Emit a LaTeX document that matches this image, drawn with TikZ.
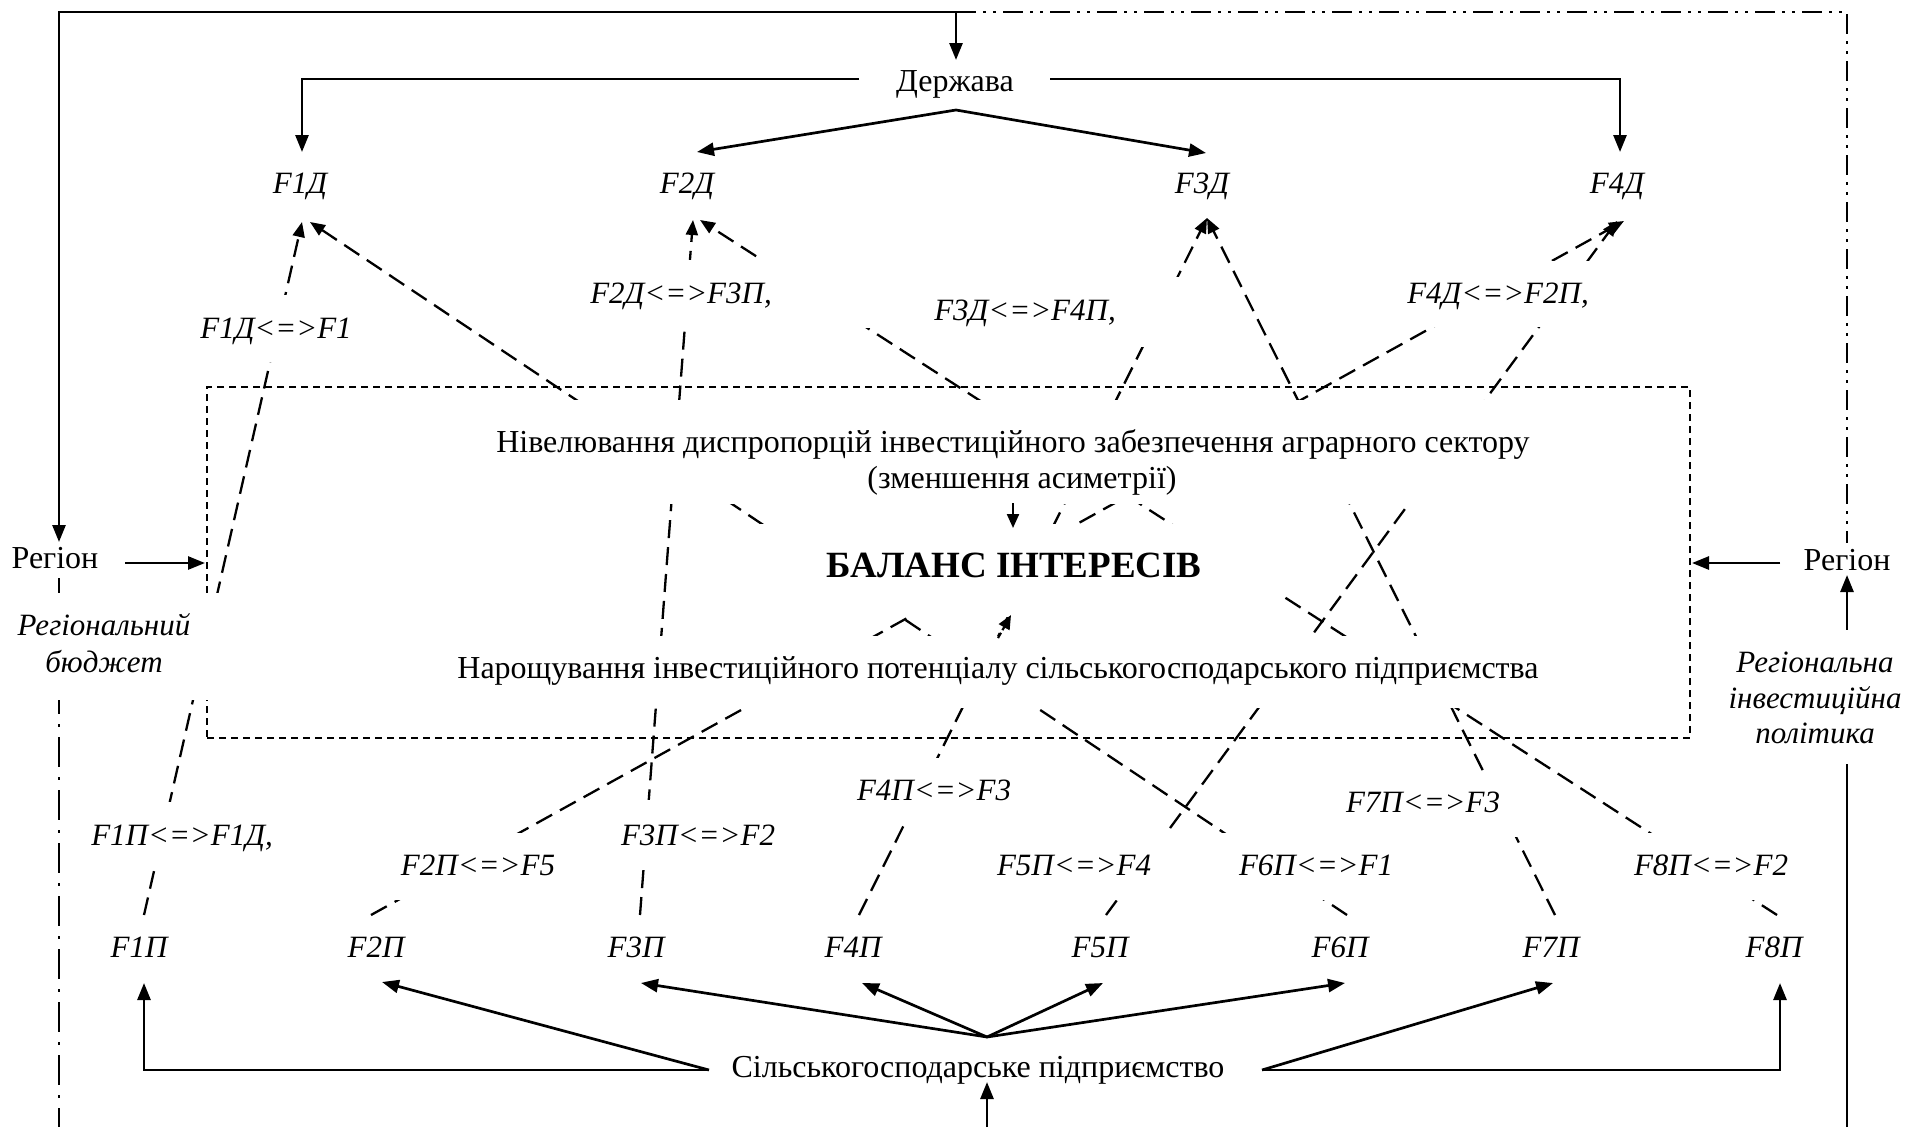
\documentclass[tikz,border=0pt]{standalone}
\usepackage{fontspec}
\setmainfont{Liberation Serif}
\usetikzlibrary{arrows.meta}
\newcommand\regf{\fontsize{32}{36}\selectfont}
\newcommand\labf{\fontsize{31}{36}\selectfont\itshape}
\newcommand\balf{\fontsize{37}{40}\selectfont\bfseries}
\begin{document}
\begin{tikzpicture}[x=1pt,y=-1pt,
  sarr/.style={line width=2.7pt,-{Triangle[length=17pt,width=13pt]}},
  dcon/.style={line width=2.3pt,dash pattern=on 18pt off 9pt,-{Triangle[length=15pt,width=12pt]}},
  ddot/.style={line width=2pt,dash pattern=on 20pt off 7pt on 3pt off 7pt on 3pt off 7pt},
  dd1/.style={line width=2pt,dash pattern=on 30pt off 10pt on 3pt off 10pt},
  frame/.style={draw,line width=1.7pt,dash pattern=on 7pt off 5pt,inner sep=0pt},
  mask/.style={fill=white,draw=none,inner sep=0pt,outer sep=0pt},
  rt/.style={font=\regf,inner sep=0pt,anchor=base},
  lt/.style={font=\labf,inner sep=0pt,anchor=base},
]
\useasboundingbox (0,0) rectangle (1910,1127);
\fill[white] (0,0) rectangle (1910,1127);

% frame
\node[frame,minimum width=1483pt,minimum height=351pt] (frm) at (948.5,562.5) {};

% coordinates of connector ends
\coordinate (topL) at (59,12);
\coordinate (topM) at (956,12);
\coordinate (topR) at (1847,12);
\coordinate (DzIn) at (956,60);
\coordinate (DzW) at (859,79);
\coordinate (DzE) at (1050,79);
\coordinate (DzS) at (956,110);
\coordinate (d1t) at (302,152);
\coordinate (d2t) at (697,152);
\coordinate (d3t) at (1206,153);
\coordinate (d4t) at (1620,152);
\coordinate (RegLin) at (59,542);
\coordinate (RegLs) at (59,578);
\coordinate (RegLe) at (125,563);
\coordinate (frmW) at (205,563);
\coordinate (RegRtop) at (1847,543);
\coordinate (RegRw) at (1780,563);
\coordinate (frmE) at (1692,563);
\coordinate (RegRin) at (1847,575);
\coordinate (brL) at (59,1127);
\coordinate (brR) at (1847,1127);
\coordinate (brM) at (987,1127);
\coordinate (SpIn) at (987,1082);
\coordinate (SpL) at (709,1070);
\coordinate (SpR) at (1262,1070);
\coordinate (SpJ) at (987,1037);
\coordinate (pt1) at (144,983);
\coordinate (pt2) at (382,982);
\coordinate (pt3) at (641,983);
\coordinate (pt4) at (862,983);
\coordinate (pt5) at (1103,983);
\coordinate (pt6) at (1345,983);
\coordinate (pt7) at (1553,983);
\coordinate (pt8) at (1780,983);
% dashed connector ends
\coordinate (t1a) at (302,222); \coordinate (t1b) at (310,222);
\coordinate (t2a) at (693,220); \coordinate (t2b) at (700,220);
\coordinate (t3) at (1207,218);
\coordinate (t4a) at (1624,221); \coordinate (t4b) at (1617,221);
\coordinate (b1) at (144,915);
\coordinate (b2) at (371,915);
\coordinate (b3) at (640,915);
\coordinate (b4) at (859,915);
\coordinate (b5) at (1106,915);
\coordinate (b6) at (1347,915);
\coordinate (b7) at (1555,915);
\coordinate (b8) at (1777,915);

% solid arrows
\draw[sarr] (topM) -- (topL) -- (RegLin);
\draw[sarr] (topM) -- (DzIn);
\draw[ddot] (topM) -- (topR) -- (RegRtop);
\draw[sarr] (DzW) -| (d1t);
\draw[sarr] (DzE) -| (d4t);
\draw[sarr] (DzS) -- (d2t);
\draw[sarr] (DzS) -- (d3t);
\draw[sarr] (RegLe) -- (frmW);
\draw[sarr] (RegRw) -- (frmE);
\draw[sarr] (brR) -- (RegRin);
\draw[dd1] (RegLs) -- (brL);
\draw[sarr] (brM) -- (SpIn);
\draw[sarr] (SpL) -| (pt1);
\draw[sarr] (SpL) -- (pt2);
\draw[sarr] (SpJ) -- (pt3);
\draw[sarr] (SpJ) -- (pt4);
\draw[sarr] (SpJ) -- (pt5);
\draw[sarr] (SpJ) -- (pt6);
\draw[sarr] (SpR) -- (pt7);
\draw[sarr] (SpR) -| (pt8);

% dashed connectors
\draw[dcon] (b1) -- (t1a);
\draw[dcon] (b6) -- (t1b);
\draw[dcon] (b3) -- (t2a);
\draw[dcon] (b8) -- (t2b);
\draw[dcon] (b4) -- (t3);
\draw[dcon] (b7) -- (t3);
\draw[dcon] (b2) -- (t4a);
\draw[dcon] (b5) -- (t4b);

% text-box masks
\node[mask,minimum width=180pt,minimum height=134pt] (mRR) at (1815,697) {};
\node[mask,minimum width=212pt,minimum height=107pt] (mRB) at (116,646.5) {};
\node[mask,minimum width=160pt,minimum height=67pt] (m1) at (275,328.5) {};
\node[mask,minimum width=305pt,minimum height=68pt] (m2) at (732.5,294) {};
\node[mask,minimum width=285pt,minimum height=70pt] (m3) at (1047.5,312) {};
\node[mask,minimum width=200pt,minimum height=66pt] (m4) at (1500,294) {};
\node[mask,minimum width=1065pt,minimum height=104pt] (m5) at (1012.5,452) {};
\node[mask,minimum width=582pt,minimum height=93pt] (m6) at (991,570.5) {};
\node[mask,minimum width=1105pt,minimum height=72pt] (m7) at (997.5,672) {};
\node[mask,minimum width=195pt,minimum height=68pt] (m9) at (182.5,836) {};
\node[mask,minimum width=175pt,minimum height=67pt] (m10) at (477.5,866.5) {};
\node[mask,minimum width=165pt,minimum height=68pt] (m11) at (697.5,834) {};
\node[mask,minimum width=165pt,minimum height=67pt] (m12) at (932.5,791.5) {};
\node[mask,minimum width=182pt,minimum height=67pt] (m13) at (1081,866.5) {};
\node[mask,minimum width=180pt,minimum height=67pt] (m14) at (1310,866.5) {};
\node[mask,minimum width=195pt,minimum height=65pt] (m15) at (1437.5,804.5) {};
\node[mask,minimum width=170pt,minimum height=67pt] (m16) at (1710,866.5) {};

% short arrows into the balance
\coordinate (nivB) at (1013,503);
\coordinate (balT) at (1013,528);
\coordinate (narT) at (998,638);
\coordinate (balB) at (1011,615);
\draw[line width=2.2pt,-{Triangle[length=14pt,width=12pt]}] (nivB) -- (balT);
\draw[line width=2.2pt,dash pattern=on 6pt off 3pt,-{Triangle[length=14pt,width=12pt]}] (narT) -- (balB);

% texts
\node[rt] (Dz) at (955,91) {Держава};
\node[lt] (F1D) at (300,193) {F1Д};
\node[lt] (F2D) at (687,193) {F2Д};
\node[lt] (F3D) at (1202,193) {F3Д};
\node[lt] (F4D) at (1617,193) {F4Д};
\node[lt] (l1) at (276,338) {F1Д<=>F1};
\node[lt] (l2) at (681,303) {F2Д<=>F3П,};
\node[lt] (l3) at (1025,320) {F3Д<=>F4П,};
\node[lt] (l4) at (1498,303) {F4Д<=>F2П,};
\node[rt] (Niv) at (1013,452) {Нівелювання диспропорцій інвестиційного забезпечення аграрного сектору};
\node[rt] (Niv2) at (1022,488) {(зменшення асиметрії)};
\node[rt,font=\balf] (Bal) at (1014,577) {БАЛАНС ІНТЕРЕСІВ};
\node[rt] (Nar) at (998,678) {Нарощування інвестиційного потенціалу сільськогосподарського підприємства};
\node[rt] (RegL) at (55,568) {Регіон};
\node[rt] (RegR) at (1847,570) {Регіон};
\node[lt] (RB1) at (104,635) {Регіональний};
\node[lt] (RB2) at (104,672) {бюджет};
\node[lt] (RP1) at (1815,672) {Регіональна};
\node[lt] (RP2) at (1815,708) {інвестиційна};
\node[lt] (RP3) at (1815,743) {політика};
\node[lt] (l9) at (182,845) {F1П<=>F1Д,};
\node[lt] (l10) at (478,875) {F2П<=>F5};
\node[lt] (l11) at (698,845) {F3П<=>F2};
\node[lt] (l12) at (934,800) {F4П<=>F3};
\node[lt] (l13) at (1074,875) {F5П<=>F4};
\node[lt] (l14) at (1316,875) {F6П<=>F1};
\node[lt] (l15) at (1423,812) {F7П<=>F3};
\node[lt] (l16) at (1711,875) {F8П<=>F2};
\node[lt] (F1P) at (139,957) {F1П};
\node[lt] (F2P) at (376,957) {F2П};
\node[lt] (F3P) at (636,957) {F3П};
\node[lt] (F4P) at (853,957) {F4П};
\node[lt] (F5P) at (1100,957) {F5П};
\node[lt] (F6P) at (1340,957) {F6П};
\node[lt] (F7P) at (1551,957) {F7П};
\node[lt] (F8P) at (1774,957) {F8П};
\node[rt] (Sp) at (978,1077) {Сільськогосподарське підприємство};
\end{tikzpicture}
\end{document}
